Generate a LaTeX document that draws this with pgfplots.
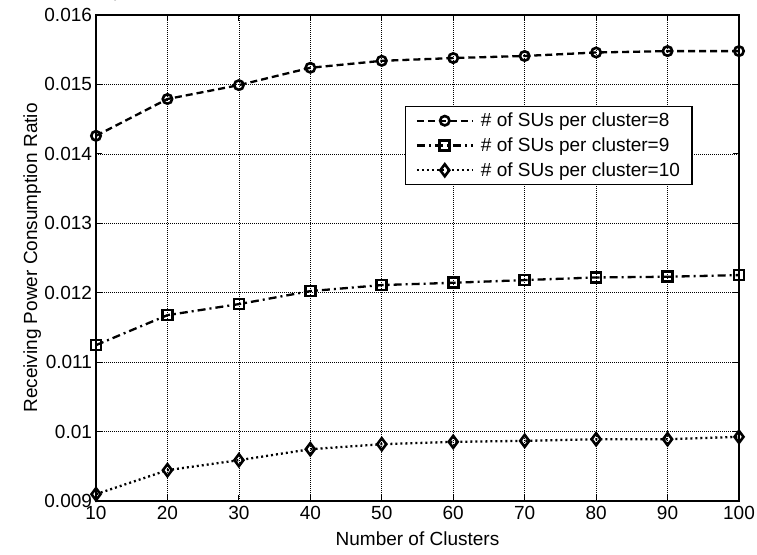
\documentclass[border=0pt]{standalone}
\usepackage{fontspec}
\setmainfont{Liberation Sans}
\usepackage{pgfplots}
\pgfplotsset{compat=1.18}
\newcommand\lf{\fontsize{19}{22}\selectfont}
\begin{document}
\begin{tikzpicture}
\begin{axis}[
  name=a, at={(0,0)}, anchor=south west,
  scale only axis, width=643pt, height=486pt,
  xmin=10, xmax=100, ymin=0.009, ymax=0.016,
  xtick={10,20,...,100},
  ytick={0.009,0.010,0.011,0.012,0.013,0.014,0.015,0.016},
  yticklabels={0.009,0.01,0.011,0.012,0.013,0.014,0.015,0.016},
  xticklabels={10,20,30,40,50,60,70,80,90,100},
  /pgf/number format/assume math mode=true,
  tick align=inside, major tick length=6pt,
  tick style={black, line width=0.8pt},
  axis line style={black, line width=1.3pt},
  grid=major,
  major grid style={black, line width=0.6pt, dash pattern=on 1pt off 1pt},
  ticklabel style={font=\lf},
  yticklabel style={xshift=-0.5pt},
  xticklabel style={yshift=-2pt},
  label style={font=\lf},
  xlabel={Number of Clusters},
  ylabel={Receiving Power Consumption Ratio},
  xlabel style={at={(axis description cs:0.5,0)}, anchor=north, yshift=-27.5pt},
  ylabel style={at={(axis description cs:0,0.5)}, anchor=south, yshift=51.5pt},
  legend style={at={(rel axis cs:0.4806,0.8128)}, anchor=north west,
    draw=black, line width=1.2pt, fill=white,
    font=\lf, row sep=5.5pt,
    nodes={inner sep=2pt},
    inner xsep=10pt, inner ysep=4.5pt,
    /tikz/every odd column/.style={column sep=5pt}},
  legend cell align=left,
  legend image code/.code={\draw[mark repeat=2,mark phase=2,#1] plot coordinates {(0pt,0pt) (28pt,0pt) (56pt,0pt)};},
]
\addplot[black, line width=2.3pt, dash pattern=on 7pt off 4pt,
  mark=o, mark size=4.7pt, mark options={solid, line width=2.6pt, fill=none}]
  coordinates {(10,0.01426) (20,0.01479) (30,0.01499) (40,0.01524) (50,0.01534)
  (60,0.01538) (70,0.01541) (80,0.01546) (90,0.01548) (100,0.01548)};
\addlegendentry{\# of SUs per cluster=8}
\addplot[black, line width=2.3pt, dash pattern=on 8pt off 4pt on 2pt off 4pt,
  mark=square, mark size=5pt, mark options={solid, line width=2.6pt, fill=none}]
  coordinates {(10,0.011245) (20,0.011677) (30,0.011836) (40,0.012023) (50,0.01211)
  (60,0.012143) (70,0.012182) (80,0.01222) (90,0.01223) (100,0.012254)};
\addlegendentry{\# of SUs per cluster=9}
\addplot[black, line width=2.3pt, dash pattern=on 2pt off 3pt,
  mark=diamond, mark size=6pt, mark options={solid, line width=2.6pt, fill=none}]
  coordinates {(10,0.009098) (20,0.009444) (30,0.009588) (40,0.009746) (50,0.009818)
  (60,0.009852) (70,0.009866) (80,0.00989) (90,0.00989) (100,0.009924)};
\addlegendentry{\# of SUs per cluster=10}
\end{axis}
\pgfresetboundingbox
\path[use as bounding box] (-96pt,-53pt) rectangle (661pt,501pt);
\end{tikzpicture}
\end{document}
